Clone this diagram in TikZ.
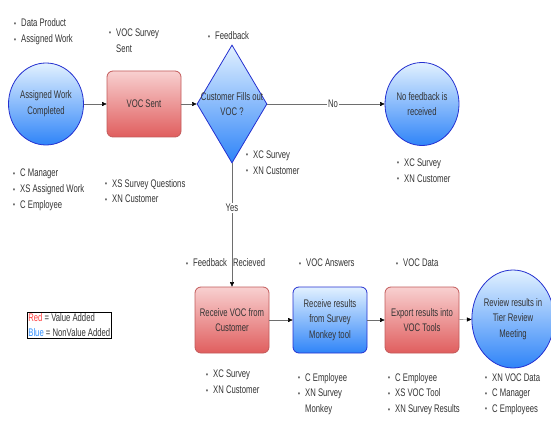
\documentclass[tikz,border=0pt]{standalone}
\usepackage{fontspec}
\setmainfont[FakeStretch=0.7]{Liberation Sans}
\usepackage{tikz}
\usetikzlibrary{shapes.geometric,arrows.meta}

\definecolor{bluetop}{HTML}{E2F1FF}
\definecolor{bluebot}{HTML}{2F84F8}
\definecolor{blueline}{HTML}{2430D0}
\definecolor{redtop}{HTML}{F8D0D0}
\definecolor{redbot}{HTML}{E05E5E}
\definecolor{redline}{HTML}{C25A5A}
\definecolor{linkgray}{HTML}{6E6E6E}
\definecolor{txtgray}{HTML}{333333}
\newcommand{\blt}{\makebox[7pt][l]{\raisebox{0.5pt}{\footnotesize\textbullet}}}

\begin{document}
\begin{tikzpicture}[x=1pt,y=-1pt,
    every node/.style={font=\fontsize{11}{15.7}\selectfont, text=txtgray},
    bluefill/.style={draw=blueline, thick, top color=bluetop, bottom color=bluebot},
    redfill/.style={draw=redline, thick, top color=redtop, bottom color=redbot},
    term/.style={bluefill, ellipse, inner sep=0pt, align=center},
    task/.style={redfill, rounded corners=6pt, minimum width=74pt, minimum height=66pt, inner sep=0pt, align=center},
    bluetask/.style={task, bluefill},
    dec/.style={bluefill, diamond, minimum width=70pt, minimum height=118pt, inner sep=0pt},
    note/.style={anchor=west, inner sep=0pt, align=left},
    link/.style={draw=linkgray, -{Triangle[length=4.5pt,width=4pt,black]}},
    lbl/.style={fill=white, inner sep=1pt}]
    \useasboundingbox (0,0) rectangle (551,422);
    \node[term, minimum width=75pt, minimum height=82pt] (awc) at (46,104) {Assigned Work\\Completed};
    \node[task] (vocs) at (144,104) {VOC Sent};
    \node[dec] (cust) at (232,104) {};
    \node[align=center, inner sep=0pt] at (cust) {Customer Fills out\\VOC ?};
    \node[term, minimum width=74pt, minimum height=83pt] (nofb) at (422,104) {No feedback is\\received};
    \node[task] (rvoc) at (232,320) {Receive VOC from\\Customer};
    \node[bluetask] (rres) at (330,320) {Receive results\\from Survey\\Monkey tool};
    \node[task] (expt) at (422,320) {Export results into\\VOC Tools};
    \node[term, minimum width=73pt, minimum height=98pt] (rev) at (513,319) {Review results in\\Tier Review\\Meeting};
    \draw[link] (awc) -- (vocs);
    \draw[link] (vocs) -- (cust);
    \draw[link] (cust) -- node[lbl, pos=0.56] {No} (nofb);
    \draw[link] (cust) -- node[lbl, pos=0.36] {Yes} (rvoc);
    \draw[link] (rvoc) -- (rres);
    \draw[link] (rres) -- (expt);
    \draw[link] (expt) -- (rev);
    \node[note] (awcin) at (14,32) {\blt Data Product\\\blt Assigned Work};
    \node[note] (vocsin) at (109,40.5) {\blt VOC Survey\\\hspace*{7pt}Sent};
    \node[note] (custin) at (208,36) {\blt Feedback};
    \node[note] (custout) at (246,162.5) {\blt XC Survey\\\blt XN Customer};
    \node[note] (awcout) at (13,190) {\blt C Manager\\\blt XS Assigned Work\\\blt C Employee};
    \node[note] (vocsout) at (105,191) {\blt XS Survey Questions\\\blt XN Customer};
    \node[note] (nofbout) at (397,170.5) {\blt XC Survey\\\blt XN Customer};
    \node[note] (rvocin) at (186,263) {\blt Feedback\hspace{6pt}Recieved};
    \node[note] (rresin) at (299,263) {\blt VOC Answers};
    \node[note] (exptin) at (396,263) {\blt VOC Data};
    \node[note] (rvocout) at (206,382) {\blt XC Survey\\\blt XN Customer};
    \node[note] (rresout) at (298,394) {\blt C Employee\\\blt XN Survey\\\hspace*{7pt}Monkey};
    \node[note] (exptout) at (388,394) {\blt C Employee\\\blt XS VOC Tool\\\blt XN Survey Results};
    \node[note] (revout) at (485,394) {\blt XN VOC Data\\\blt C Manager\\\blt C Employees};
    \node[draw, thick, anchor=north west, inner sep=1pt, align=left, font=\fontsize{11}{15.5}\selectfont] (legend) at (27,312)
        {\textcolor[HTML]{FF3B3B}{Red} = Value Added\\\textcolor[HTML]{2F8FFF}{Blue} = NonValue Added};
\end{tikzpicture}
\end{document}
